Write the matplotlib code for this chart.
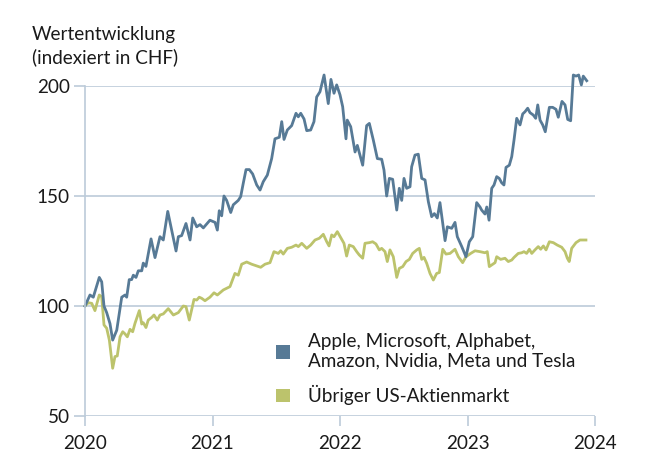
import matplotlib
matplotlib.use("Agg")
import matplotlib.pyplot as plt
from matplotlib.patches import Patch

# Magnificent 7 (Zeit in Jahren, Index)
big7_t = [2020.000, 2020.039, 2020.065, 2020.112, 2020.131, 2020.149, 2020.170, 2020.196,
          2020.217, 2020.249, 2020.288, 2020.314, 2020.327, 2020.347, 2020.366, 2020.379,
          2020.400, 2020.418, 2020.445, 2020.457, 2020.478, 2020.518, 2020.549, 2020.588,
          2020.614, 2020.649, 2020.680, 2020.714, 2020.732, 2020.758, 2020.792, 2020.824,
          2020.845, 2020.876, 2020.902, 2020.928, 2020.980, 2021.020, 2021.038, 2021.053,
          2021.072, 2021.090, 2021.111, 2021.143, 2021.163, 2021.202, 2021.221, 2021.242,
          2021.263, 2021.289, 2021.315, 2021.347, 2021.373, 2021.398, 2021.430, 2021.464,
          2021.490, 2021.524, 2021.543, 2021.561, 2021.587, 2021.621, 2021.655, 2021.673,
          2021.692, 2021.718, 2021.739, 2021.770, 2021.796, 2021.817, 2021.843, 2021.875,
          2021.908, 2021.929, 2021.953, 2021.974, 2022.000, 2022.021, 2022.047, 2022.057,
          2022.084, 2022.118, 2022.136, 2022.178, 2022.209, 2022.230, 2022.261, 2022.293,
          2022.327, 2022.345, 2022.366, 2022.387, 2022.413, 2022.445, 2022.465, 2022.484,
          2022.502, 2022.523, 2022.549, 2022.562, 2022.588, 2022.614, 2022.641, 2022.667,
          2022.693, 2022.719, 2022.740, 2022.763, 2022.784, 2022.824, 2022.842, 2022.876,
          2022.902, 2022.920, 2022.955, 2022.988, 2023.014, 2023.041, 2023.072, 2023.098,
          2023.111, 2023.137, 2023.151, 2023.169, 2023.190, 2023.208, 2023.229, 2023.249,
          2023.268, 2023.286, 2023.302, 2023.328, 2023.347, 2023.365, 2023.386, 2023.412,
          2023.433, 2023.451, 2023.472, 2023.490, 2023.516, 2023.535, 2023.551, 2023.569,
          2023.590, 2023.610, 2023.642, 2023.668, 2023.694, 2023.712, 2023.741, 2023.765,
          2023.786, 2023.809, 2023.830, 2023.851, 2023.872, 2023.893, 2023.908, 2023.935]
big7_v = [100.0, 105.0, 104.0, 113.0, 111.0, 100.0, 97.0, 92.0,
          84.5, 89.0, 104.0, 105.0, 104.0, 112.0, 112.0, 114.0,
          113.0, 116.0, 116.0, 119.5, 118.0, 130.5, 122.0, 131.5,
          130.0, 143.0, 134.5, 125.0, 131.5, 132.0, 137.5, 130.0,
          140.0, 136.0, 137.0, 135.5, 139.0, 138.0, 134.5, 143.3,
          141.0, 150.0, 148.0, 142.5, 146.0, 148.0, 149.7, 156.0,
          162.0, 162.0, 160.0, 155.0, 152.7, 156.5, 159.5, 167.0,
          176.0, 176.7, 183.8, 175.7, 180.0, 182.0, 187.6, 186.0,
          187.6, 185.0, 179.7, 180.0, 183.8, 195.0, 197.4, 205.0,
          192.0, 203.0, 196.7, 200.5, 196.0, 190.6, 176.0, 184.5,
          181.5, 170.0, 173.0, 164.0, 182.0, 183.0, 175.5, 167.0,
          166.7, 161.8, 150.0, 158.0, 157.6, 143.6, 153.5, 148.0,
          158.0, 153.5, 154.2, 163.3, 168.6, 169.0, 158.0, 157.3,
          147.4, 140.6, 142.0, 140.0, 147.0, 129.7, 136.0, 135.3,
          138.0, 131.5, 127.0, 122.4, 129.2, 131.5, 147.0, 145.0,
          143.6, 141.8, 145.0, 139.0, 153.5, 155.0, 158.8, 158.0,
          156.0, 155.0, 163.0, 164.0, 167.9, 175.5, 185.3, 182.3,
          187.3, 188.3, 189.9, 187.9, 186.8, 185.3, 191.4, 184.5,
          182.3, 179.2, 190.3, 190.3, 189.4, 185.8, 193.0, 191.4,
          184.8, 184.2, 205.0, 204.5, 205.0, 200.5, 204.5, 202.4]

# Übriger US-Aktienmarkt
rest_t = [2020.000, 2020.026, 2020.053, 2020.078, 2020.112, 2020.131, 2020.149, 2020.170,
          2020.191, 2020.217, 2020.235, 2020.253, 2020.275, 2020.296, 2020.314, 2020.332,
          2020.353, 2020.374, 2020.392, 2020.426, 2020.445, 2020.457, 2020.478, 2020.496,
          2020.523, 2020.541, 2020.567, 2020.588, 2020.614, 2020.653, 2020.693, 2020.732,
          2020.771, 2020.792, 2020.818, 2020.855, 2020.876, 2020.896, 2020.915, 2020.941,
          2020.980, 2021.012, 2021.038, 2021.085, 2021.137, 2021.176, 2021.202, 2021.229,
          2021.268, 2021.307, 2021.347, 2021.378, 2021.412, 2021.451, 2021.482, 2021.516,
          2021.535, 2021.555, 2021.587, 2021.621, 2021.655, 2021.673, 2021.700, 2021.739,
          2021.770, 2021.804, 2021.838, 2021.869, 2021.896, 2021.914, 2021.935, 2021.953,
          2021.979, 2022.008, 2022.031, 2022.052, 2022.073, 2022.104, 2022.131, 2022.151,
          2022.178, 2022.196, 2022.230, 2022.256, 2022.282, 2022.308, 2022.327, 2022.353,
          2022.371, 2022.392, 2022.418, 2022.445, 2022.465, 2022.492, 2022.518, 2022.544,
          2022.570, 2022.602, 2022.622, 2022.641, 2022.659, 2022.680, 2022.706, 2022.732,
          2022.758, 2022.779, 2022.806, 2022.831, 2022.863, 2022.902, 2022.928, 2022.962,
          2022.988, 2023.025, 2023.059, 2023.098, 2023.137, 2023.155, 2023.171, 2023.198,
          2023.216, 2023.229, 2023.260, 2023.294, 2023.320, 2023.347, 2023.365, 2023.398,
          2023.425, 2023.443, 2023.464, 2023.485, 2023.504, 2023.529, 2023.555, 2023.574,
          2023.595, 2023.616, 2023.642, 2023.673, 2023.704, 2023.739, 2023.765, 2023.783,
          2023.798, 2023.817, 2023.851, 2023.882, 2023.929]
rest_v = [100.0, 101.5, 101.2, 97.9, 105.0, 104.2, 91.4, 89.9,
          84.5, 71.7, 77.0, 77.3, 86.0, 88.3, 87.3, 86.0,
          89.4, 88.3, 92.1, 97.9, 91.8, 92.4, 90.2, 93.6,
          94.8, 95.9, 93.6, 95.9, 96.4, 98.8, 95.9, 97.0,
          100.0, 99.7, 93.6, 103.0, 102.7, 104.0, 103.5, 102.4,
          104.0, 106.0, 105.0, 107.3, 108.8, 114.8, 114.0, 119.0,
          120.0, 119.0, 118.2, 117.6, 119.0, 119.7, 124.7, 123.9,
          125.1, 123.6, 126.2, 126.7, 127.7, 127.0, 128.5, 126.2,
          127.7, 130.0, 130.8, 132.6, 129.2, 127.3, 132.3, 131.5,
          133.8, 130.8, 128.5, 122.7, 127.7, 127.0, 124.7, 123.2,
          121.7, 128.5, 128.8, 129.2, 128.2, 125.5, 126.2, 124.7,
          120.2, 125.5, 122.4, 113.0, 117.1, 117.9, 120.2, 121.2,
          123.9, 125.5, 126.2, 121.2, 122.1, 119.4, 114.8, 111.8,
          114.8, 115.2, 125.8, 123.6, 123.9, 125.8, 122.4, 119.7,
          122.4, 123.9, 125.1, 124.7, 124.2, 124.7, 117.9, 119.0,
          119.7, 122.4, 121.2, 121.7, 120.2, 120.9, 122.1, 123.9,
          124.2, 124.7, 123.9, 125.8, 123.9, 125.5, 127.0, 125.8,
          127.3, 125.5, 129.2, 128.8, 127.7, 126.7, 124.7, 121.7,
          120.2, 126.2, 128.8, 130.0, 130.0]

years = [2020, 2021, 2022, 2023, 2024]
y_ticks = [50, 100, 150, 200]
title_lines = ["Wertentwicklung", "(indexiert in CHF)"]
labels = ["Apple, Microsoft, Alphabet,\nAmazon, Nvidia, Meta und Tesla",
          "Übriger US-Aktienmarkt"]

blue = "#577a96"
green = "#bcc36c"
gridc = "#bccbd9"
fs = 13.6

plt.rcParams["font.family"] = ["Lato", "DejaVu Sans"]

fig = plt.figure(figsize=(6.5, 4.71), dpi=100)
ax = fig.add_axes([85 / 650, 1 - 416 / 471, 510 / 650, 330 / 471])

ax.plot(rest_t, rest_v, color=green, lw=2.0, clip_on=False, solid_joinstyle="round")
ax.plot(big7_t, big7_v, color=blue, lw=2.0, clip_on=False, solid_joinstyle="round")

ax.set_xlim(2020, 2024)
ax.set_ylim(50, 200)
ax.set_xticks(years)
ax.set_yticks(y_ticks)
ax.set_xticklabels([str(y) for y in years])
ax.grid(axis="y", color=gridc, lw=1.2)
ax.set_axisbelow(True)
for s in ["top", "right", "bottom"]:
    ax.spines[s].set_visible(False)
ax.spines["left"].set_color(gridc)
ax.spines["left"].set_linewidth(1.2)
ax.tick_params(axis="y", length=8, width=1.2, color=gridc, labelsize=fs, pad=3)
ax.tick_params(axis="x", length=7, width=1.2, color=gridc, labelsize=fs, pad=7)
for lab in ax.get_xticklabels() + ax.get_yticklabels():
    lab.set_color("#1a1a1a")

# Titel, Zeile für Zeile auf der Grundlinie
for i, line in enumerate(title_lines):
    fig.text(32 / 650, 1 - (40 + 23 * i) / 471, line, fontsize=fs,
             va="baseline", ha="left", color="#1a1a1a")

handles = [Patch(facecolor=blue), Patch(facecolor=green)]
ax.legend(handles, labels, loc="upper left", bbox_to_anchor=(259 / 650, 1 - 316 / 471),
          bbox_transform=fig.transFigure, frameon=False, fontsize=fs,
          handlelength=0.75, handleheight=0.75, handletextpad=0.95, labelspacing=0.8,
          labelcolor="#1a1a1a")

fig.savefig("out.png", dpi=100, facecolor="white")
